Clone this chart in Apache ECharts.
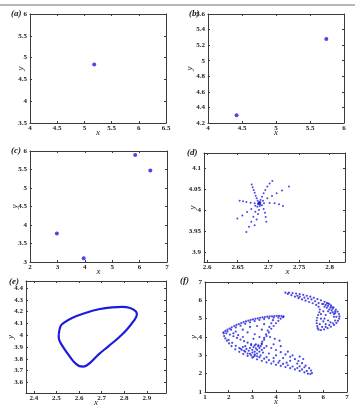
<!DOCTYPE html>
<html>
<head>
<meta charset="utf-8">
<script src="https://cdn.jsdelivr.net/npm/echarts@6/dist/echarts.min.js"></script>
<style>
  html, body { margin: 0; padding: 0; background: #fff; }
  #chart { width: 355px; height: 411px; }
</style>
</head>
<body>
<div id="chart"></div>
<script>
// 패널별 데이터 (그림에서 눈으로 읽은 값)
const A_PTS = [[5.18, 4.84]];
const B_PTS = [[4.42, 4.3], [5.74, 5.28]];
const C_PTS = [[2.98, 3.77], [3.96, 3.1], [5.84, 5.89], [6.39, 5.47]];

// (d) spiral arms around the fixed point
const D_PTS = [
  [2.685, 4.017], [2.686, 4.015], [2.684, 4.016], [2.6855, 4.018], [2.687, 4.017], [2.683, 4.015],
  [2.6845, 4.0185], [2.6862, 4.0192], [2.6838, 4.0138], [2.6868, 4.0132],
  [2.6825, 4.0222], [2.6809, 4.0277], [2.6793, 4.0341], [2.6777, 4.0412], [2.676, 4.0476], [2.6744, 4.0539], [2.6728, 4.0603],
  [2.6874, 4.0237], [2.6896, 4.0317], [2.6923, 4.0396], [2.695, 4.0476], [2.6983, 4.0555], [2.7021, 4.0627], [2.7064, 4.069],
  [2.6912, 4.0222], [2.6983, 4.0277], [2.7059, 4.0333], [2.7135, 4.0397], [2.7222, 4.046], [2.7336, 4.0555],
  [2.6929, 4.0158], [2.7021, 4.0166], [2.7102, 4.0158], [2.7173, 4.0135], [2.7238, 4.0095],
  [2.6896, 4.0111], [2.6923, 4.0023], [2.6945, 3.9936], [2.6956, 3.9833], [2.6967, 3.9722],
  [2.6858, 4.0095], [2.6847, 4.0], [2.6831, 3.9904], [2.6809, 3.9777], [2.6776, 3.9642],
  [2.682, 4.0079], [2.6787, 3.996], [2.6755, 3.9841], [2.6722, 3.9722], [2.6684, 3.9603], [2.6641, 3.9483],
  [2.6787, 4.0103], [2.6722, 4.0023], [2.6652, 3.9952], [2.6576, 3.9873], [2.6494, 3.9801],
  [2.6776, 4.0158], [2.6711, 4.0174], [2.6641, 4.019], [2.6586, 4.0206], [2.6532, 4.0222]
];
const D_XTICKS = [2.6, 2.65, 2.7, 2.75, 2.8];
const D_YTICKS = [3.9, 3.95, 4, 4.05, 4.1];

// (e) closed orbit
const E_LOOP = [
  [2.51, 4.007], [2.518, 4.077], [2.532, 4.105], [2.569, 4.147], [2.628, 4.189], [2.687, 4.22],
  [2.746, 4.237], [2.79, 4.24], [2.826, 4.231], [2.851, 4.203], [2.856, 4.175], [2.841, 4.119],
  [2.812, 4.049], [2.775, 3.979], [2.731, 3.908], [2.687, 3.838], [2.65, 3.768], [2.62, 3.734],
  [2.599, 3.74], [2.576, 3.776], [2.547, 3.851], [2.518, 3.935], [2.51, 3.98], [2.51, 4.007]
];
const E_XTICKS = [2.4, 2.5, 2.6, 2.7, 2.8, 2.9];
const E_YTICKS = [3.6, 3.7, 3.8, 3.9, 4, 4.1, 4.2, 4.3, 4.4];

// (f) chaotic attractor, two pieces
const F_PTS = [
  // lower-left piece, upper edge
  [1.78, 4.25], [1.86, 4.33], [1.95, 4.4], [2.04, 4.46], [2.13, 4.53], [2.23, 4.6], [2.33, 4.66], [2.43, 4.71],
  [2.53, 4.76], [2.63, 4.81], [2.73, 4.85], [2.83, 4.89], [2.93, 4.93], [3.03, 4.96], [3.13, 4.99], [3.23, 5.02],
  [3.33, 5.05], [3.43, 5.07], [3.53, 5.09], [3.63, 5.11], [3.73, 5.12], [3.83, 5.13], [3.93, 5.14], [4.03, 5.15],
  [4.13, 5.15], [4.23, 5.14], [4.32, 5.12],
  [1.95, 4.3], [2.1, 4.4], [2.3, 4.52], [2.5, 4.62], [2.7, 4.72], [2.9, 4.8], [3.1, 4.87], [3.3, 4.93],
  [3.5, 4.98], [3.7, 5.02], [3.9, 5.05], [4.1, 5.06],
  // lower edge
  [1.79, 4.2], [1.81, 4.05], [1.86, 3.92], [1.93, 3.8], [2.02, 3.65], [2.12, 3.5], [2.28, 3.33], [2.45, 3.19],
  [2.62, 3.07], [2.8, 2.97], [3.0, 2.87], [3.2, 2.78], [3.4, 2.7], [3.6, 2.62], [3.8, 2.55], [4.0, 2.48],
  [4.2, 2.42], [4.4, 2.36], [4.6, 2.3], [4.8, 2.23], [5.0, 2.15], [5.2, 2.07], [5.35, 2.0], [5.45, 1.98], [5.52, 2.03],
  [2.0, 3.85], [2.15, 3.68], [2.3, 3.52], [2.5, 3.36], [2.7, 3.2], [2.9, 3.08], [3.1, 2.98], [3.3, 2.9],
  [3.5, 2.82], [3.7, 2.74], [3.9, 2.67], [4.1, 2.6], [4.3, 2.53], [4.5, 2.46], [4.7, 2.39], [4.9, 2.31],
  [5.1, 2.23], [5.3, 2.15],
  // inner edge from the tip to the junction
  [1.9, 4.2], [2.05, 4.13], [2.2, 4.04], [2.35, 3.95], [2.5, 3.86], [2.65, 3.77], [2.8, 3.69], [2.95, 3.61],
  [3.1, 3.54], [3.25, 3.5],
  // upper edge of the right wedge
  [3.4, 3.6], [3.6, 3.5], [3.8, 3.4], [4.0, 3.29], [4.2, 3.17], [4.4, 3.05], [4.6, 2.92], [4.8, 2.79],
  [4.95, 2.69], [5.1, 2.57], [5.25, 2.44], [5.4, 2.3], [5.48, 2.17],
  // dense junction
  [2.9, 3.4], [3.0, 3.3], [3.05, 3.45], [3.1, 3.2], [3.15, 3.38], [3.2, 3.1], [3.2, 3.3], [3.25, 3.55],
  [3.3, 3.2], [3.3, 3.4], [3.35, 3.0], [3.4, 3.3], [3.0, 3.15], [2.85, 3.25], [2.95, 3.55], [3.15, 3.6],
  [3.35, 3.5], [3.45, 3.15], [2.75, 3.35], [3.1, 3.05], [2.7, 3.5], [3.5, 3.4], [2.6, 3.45], [3.2, 2.95],
  [2.55, 3.3], [2.8, 3.1], [2.95, 3.0], [2.65, 3.25], [3.05, 2.92], [2.45, 3.4],
  // crossing bands
  [3.4, 3.65], [3.5, 3.85], [3.6, 4.05], [3.7, 4.25], [3.8, 4.45], [3.9, 4.6], [4.0, 4.75], [4.1, 4.88],
  [4.2, 5.0], [4.3, 5.08],
  [3.42, 3.75], [3.5, 3.95], [3.58, 4.15], [3.65, 4.35], [3.72, 4.55], [3.8, 4.75], [3.87, 4.92],
  [3.75, 4.0], [3.95, 3.9], [4.15, 3.8],
  // sparse interior
  [2.3, 4.3], [2.6, 4.4], [2.9, 4.55], [3.2, 4.6], [3.5, 4.7], [2.4, 4.1], [2.8, 4.25], [3.1, 4.15],
  [3.4, 4.4], [2.2, 4.2], [3.05, 3.9], [3.3, 4.0], [2.6, 4.0], [3.9, 3.6], [4.2, 3.5], [4.5, 3.2],
  [4.7, 3.0], [4.0, 3.0], [4.3, 2.85], [4.6, 2.7], [4.9, 2.55], [5.2, 2.35], [3.7, 3.1], [3.9, 2.85],
  [4.15, 2.7], [4.45, 2.6], [5.0, 2.4], [3.6, 2.9], [5.0, 2.93], [5.15, 2.8],
  // upper-right piece, outer edge
  [4.4, 6.42], [4.55, 6.42], [4.7, 6.4], [4.85, 6.37], [5.0, 6.34], [5.15, 6.3], [5.3, 6.25], [5.45, 6.2],
  [5.6, 6.14], [5.75, 6.07], [5.9, 6.0], [6.05, 5.92], [6.2, 5.83], [6.32, 5.73], [6.43, 5.62], [6.53, 5.5],
  [6.6, 5.38], [6.66, 5.25], [6.68, 5.12], [6.67, 5.0], [6.62, 4.88], [6.55, 4.77], [6.45, 4.66], [6.32, 4.56],
  [6.18, 4.48], [6.03, 4.42], [5.9, 4.38], [5.8, 4.4],
  // inner edge
  [4.5, 6.35], [4.65, 6.28], [4.8, 6.2], [4.95, 6.12], [5.1, 6.05], [5.25, 5.98], [5.4, 5.91], [5.55, 5.84],
  [5.7, 5.75], [5.8, 5.65], [5.85, 5.5], [5.83, 5.35], [5.78, 5.2], [5.74, 5.05], [5.72, 4.9], [5.72, 4.75],
  [5.74, 4.6], [5.76, 4.48],
  [6.0, 5.4], [6.1, 5.2], [6.05, 5.0], [6.0, 4.85], [6.1, 4.7], [6.25, 4.65], [6.4, 4.75], [6.5, 4.9], [6.45, 5.1],
  // dense fold
  [6.1, 5.75], [6.2, 5.7], [6.3, 5.6], [6.25, 5.5], [6.35, 5.45], [6.15, 5.6], [6.4, 5.35], [6.45, 5.25],
  [6.2, 5.4], [6.05, 5.65], [6.3, 5.3], [6.5, 5.4], [6.0, 5.8], [6.15, 5.85], [6.35, 5.65], [6.4, 5.55],
  [6.25, 5.8], [6.5, 5.3],
  [4.9, 6.25], [5.2, 6.15], [5.5, 6.05], [5.35, 6.1], [5.65, 5.95], [5.8, 5.85], [5.95, 5.8], [5.0, 6.2],
  [5.9, 5.0], [5.85, 4.7], [5.95, 4.55], [6.1, 4.55], [6.2, 4.9], [6.3, 4.8], [5.9, 5.25], [6.55, 5.1]
];

const BLUE = '#1c1cdc';
const INK = '#1a1a1a';
const SERIF = '"Liberation Serif", "DejaVu Serif", serif';

// grid + axis ranges per panel
const PANELS = [
  { tag: '(a)', grid: { left: 30, top: 14, width: 136, height: 109 }, x: [4, 6.5, 0.5], y: [3.5, 6, 0.5], lab: [11, 9], yGap: 5 },
  { tag: '(b)', grid: { left: 208, top: 14, width: 136, height: 109 }, x: [4, 6, 0.5], y: [4.2, 5.6, 0.2], lab: [189, 9], yGap: 14 },
  { tag: '(c)', grid: { left: 30, top: 151, width: 137, height: 111 }, x: [2, 7, 1], y: [3, 6, 0.5], lab: [11, 146], yGap: 11 },
  { tag: '(d)', grid: { left: 204, top: 153, width: 141, height: 109 }, x: [2.595, 2.825, D_XTICKS], y: [3.877, 4.135, D_YTICKS], lab: [187, 148], yGap: 7, xPad: 26 },
  { tag: '(e)', grid: { left: 26, top: 281, width: 140, height: 112 }, x: [2.365, 2.985, E_XTICKS], y: [3.51, 4.46, E_YTICKS], lab: [9, 277], yGap: 11 },
  { tag: '(f)', grid: { left: 205, top: 282, width: 142, height: 110 }, x: [1, 7, 1], y: [1, 7, 1], lab: [180, 276], yGap: 7 },
];

const tickLabel = { color: INK, fontFamily: SERIF, fontWeight: 'bold', fontSize: 7 };

function axis(i, r, pos, isX, withLabels, p) {
  const ax = {
    type: 'value',
    gridIndex: i,
    position: pos,
    min: r[0],
    max: r[1],
    axisLine: { show: true, lineStyle: { color: '#3a3a3a', width: 1 } },
    axisTick: { show: true, inside: true, length: 2, lineStyle: { color: '#3a3a3a' } },
    axisLabel: Object.assign({ show: withLabels, margin: isX ? 2 : 3 }, tickLabel),
    splitLine: { show: false },
  };
  if (Array.isArray(r[2])) {
    ax.axisTick.customValues = r[2];
    ax.axisLabel.customValues = r[2];
  } else {
    ax.interval = r[2];
  }
  if (withLabels) {
    ax.name = isX ? 'x' : 'y';
    ax.nameLocation = 'middle';
    ax.nameGap = isX ? 5 : p.yGap;
    ax.nameMoveOverlap = false;
    ax.nameTextStyle = { fontFamily: SERIF, fontStyle: 'italic', fontSize: 9, color: INK, padding: isX && p.xPad ? [0, 0, 0, p.xPad] : 0 };
  }
  return ax;
}

const chart = echarts.init(document.getElementById('chart'), null, { renderer: 'canvas' });

const xAxis = [], yAxis = [];
PANELS.forEach((p, i) => {
  xAxis.push(axis(i, p.x, 'bottom', true, true, p), axis(i, p.x, 'top', true, false, p));
  yAxis.push(axis(i, p.y, 'left', false, true, p), axis(i, p.y, 'right', false, false, p));
});

const dots = (i, data, size) => ({
  type: 'scatter',
  xAxisIndex: i * 2,
  yAxisIndex: i * 2,
  data,
  symbolSize: size,
  itemStyle: { color: BLUE },
  silent: true,
});

chart.setOption({
  animation: false,
  title: PANELS.map((p) => ({
    text: p.tag,
    left: p.lab[0],
    top: p.lab[1],
    padding: 0,
    textStyle: { fontFamily: SERIF, fontStyle: 'italic', fontWeight: 'bold', fontSize: 9, color: INK },
  })),
  graphic: [
    { type: 'line', shape: { x1: 0, y1: 5, x2: 355, y2: 5 }, style: { stroke: '#b8b8b8', lineWidth: 2 } },
  ],
  grid: PANELS.map((p) => p.grid),
  xAxis,
  yAxis,
  series: [
    dots(0, A_PTS, 4),
    dots(1, B_PTS, 4),
    dots(2, C_PTS, 4),
    dots(3, D_PTS, 2),
    {
      type: 'line',
      xAxisIndex: 8,
      yAxisIndex: 8,
      data: E_LOOP,
      smooth: 0.4,
      symbol: 'none',
      lineStyle: { color: BLUE, width: 2.2 },
      silent: true,
    },
    dots(5, F_PTS, 2.2),
  ],
});
</script>
</body>
</html>
